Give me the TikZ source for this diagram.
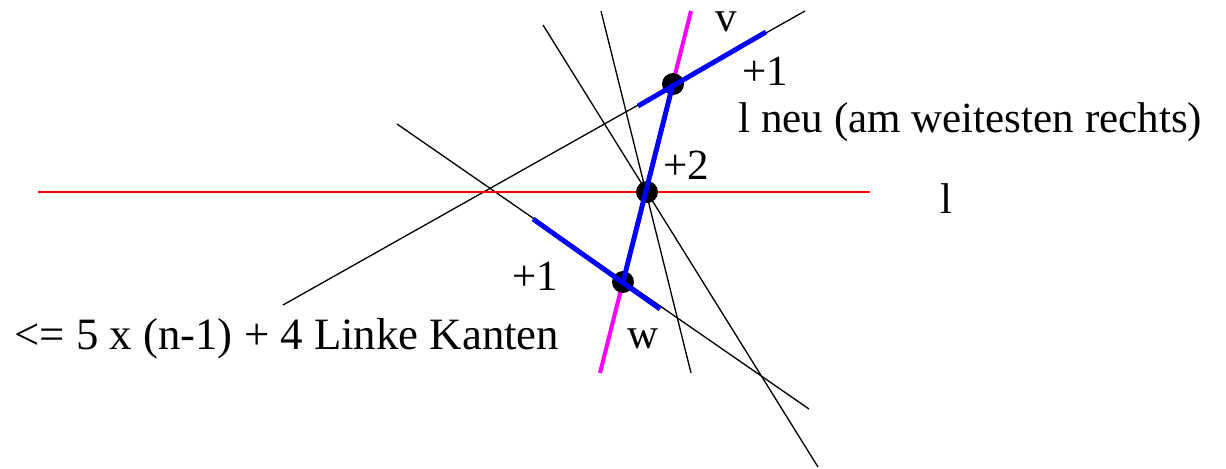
\documentclass[tikz,border=0pt]{standalone}
\usepackage{fontspec}
\setmainfont{Liberation Serif}
\definecolor{lred}{RGB}{255,0,0}
\definecolor{lmag}{RGB}{255,0,255}
\definecolor{lblue}{RGB}{0,0,255}
\usetikzlibrary{calc}
\tikzset{
  thinline/.style={black, line width=0.75pt},
  redline/.style={lred, line width=1.7pt},
  magline/.style={lmag, line width=2.3pt},
  blueseg/.style={lblue, line width=2.8pt},
  vertex/.style={circle, fill=black, inner sep=0pt, minimum size=0.44cm},
  lbl/.style={font=\fontsize{24.5}{28}\selectfont, inner sep=0pt, anchor=base west},
}
\begin{document}
\begin{tikzpicture}[x=0.02cm,y=-0.02cm]
  \useasboundingbox (0,0) rectangle (1226,469);

  % end points of the lines
  \coordinate (a1) at (805,11);  \coordinate (a2) at (283,305);
  \coordinate (b1) at (397,124); \coordinate (b2) at (809,409);
  \coordinate (c1) at (543,25);  \coordinate (c2) at (818,467);
  \coordinate (d1) at (601,11);  \coordinate (d2) at (691,373);
  \coordinate (l1) at (38,192);  \coordinate (l2) at (870,192);
  \coordinate (m1) at (691,11);  \coordinate (m2) at (600,373);

  % black lines
  \draw[thinline] (a1) -- (a2);
  \draw[thinline] (b1) -- (b2);
  \draw[thinline] (c1) -- (c2);
  \draw[thinline] (d1) -- (d2);

  % line l and the new line
  \draw[redline] (l1) -- (l2);
  \draw[magline] (m1) -- (m2);

  % points
  \node[vertex] (v) at (673,84) {};
  \node[vertex] (p) at (647,192) {};
  \node[vertex] (w) at (623,282) {};

  % blue segments
  \coordinate (e1) at (638,106); \coordinate (e2) at (766,32);
  \coordinate (f1) at (533,219); \coordinate (f2) at (660,309);
  \draw[blueseg] (e1) -- (e2);
  \draw[blueseg] (v.center) -- (w.center);
  \draw[blueseg] (f1) -- (f2);

  % Labels
  \node[lbl] (lv) at (715,32) {v};
  \node[lbl] (lw) at (627,348) {w};
  \node[lbl] (pone) at (742,86) {+1};
  \node[lbl] (lneu) at (738,133) {l neu (am weitesten rechts)};
  \node[lbl] (ptwo) at (663,180) {+2};
  \node[lbl] (ll) at (940,214) {l};
  \node[lbl] (pthree) at (512,291) {+1};
  \node[lbl, font=\fontsize{25.5}{30}\selectfont] (kanten) at (14,349) {<= 5 x (n-1) + 4 Linke Kanten};
\end{tikzpicture}
\end{document}
